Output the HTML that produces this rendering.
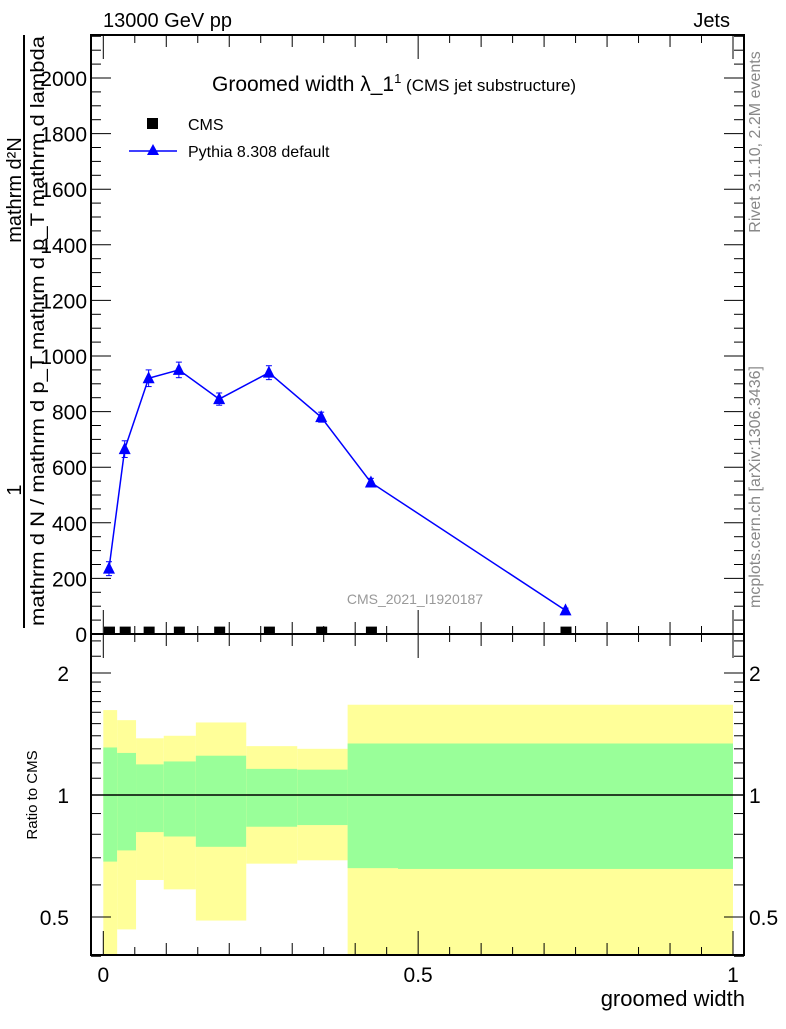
<!DOCTYPE html>
<html><head><meta charset="utf-8"><style>
body{margin:0;background:#fff}
svg text{font-family:"Liberation Sans",sans-serif}
</style></head><body>
<svg width="786" height="1024" viewBox="0 0 786 1024">
<g id="g"></g>
<text x="103" y="27" font-size="20">13000 GeV pp</text>
<text x="730" y="27" font-size="20" text-anchor="end">Jets</text>
<text x="212" y="91" font-size="21">Groomed width λ_1<tspan font-size="13" dy="-8">1</tspan><tspan font-size="17" dy="8"> (CMS jet substructure)</tspan></text>
<rect x="147" y="118" width="11" height="11" fill="#000"/>
<text x="188" y="130" font-size="16">CMS</text>
<line x1="129" y1="151" x2="177" y2="151" stroke="#00f" stroke-width="1.5"/>
<polygon points="153,144 147,155 159,155" fill="#00f"/>
<text x="188" y="157" font-size="16">Pythia 8.308 default</text>
<text x="415" y="604" font-size="14" fill="#999" text-anchor="middle">CMS_2021_I1920187</text>
<text transform="translate(760,142) rotate(-90)" font-size="16" fill="#888" text-anchor="middle">Rivet 3.1.10,  2.2M events</text>
<text transform="translate(760,487) rotate(-90)" font-size="16" fill="#888" text-anchor="middle">mcplots.cern.ch [arXiv:1306.3436]</text>
<text transform="translate(21,490) rotate(-90)" font-size="20" text-anchor="middle">1</text>
<text transform="translate(21,190) rotate(-90)" font-size="20" text-anchor="middle">mathrm d²N</text>
<line x1="24" y1="35" x2="24" y2="628" stroke="#000" stroke-width="2"/>
<text transform="translate(44,331) rotate(-90)" font-size="19" text-anchor="middle" textLength="590" lengthAdjust="spacingAndGlyphs">mathrm d N / mathrm d p_T mathrm d p_T  mathrm d lambda</text>
<text transform="translate(37,795) rotate(-90)" font-size="15" text-anchor="middle">Ratio to CMS</text>
<text x="745" y="1006" font-size="22" text-anchor="end">groomed width</text>
</svg>
<script>
const edges=[0,0.022,0.052,0.096,0.147,0.227,0.308,0.388,0.468,1.0];
const xMid=[0.009,0.034,0.072,0.12,0.184,0.263,0.346,0.425,0.734];
const pythia=[235,665,920,950,845,940,780,545,85];
const pythiaErr=[25,30,30,28,22,25,18,15,8];
const cms=[5,5,5,5,5,5,5,5,5];
const yelHi=[1.62,1.53,1.38,1.40,1.51,1.32,1.30,1.67,1.67];
const grnHi=[1.31,1.27,1.19,1.21,1.25,1.16,1.155,1.34,1.34];
const grnLo=[0.685,0.73,0.81,0.79,0.745,0.835,0.843,0.66,0.657];
const yelLo=[0.3,0.466,0.617,0.585,0.49,0.677,0.69,0.3,0.3];
const yTicks=[0,200,400,600,800,1000,1200,1400,1600,1800,2000];
const xTicks=[0,0.5,1];
const rTicks=[0.5,1,2];
const NS='http://www.w3.org/2000/svg';
const g=document.getElementById('g');
const L=91,R=744,T=35,M=634,B=955;
const X=v=>103.3+v*629.7;
const Y=v=>634-v*0.278;
const RY=r=>795-122*Math.log2(r);
function el(t,a,p){const e=document.createElementNS(NS,t);for(const k in a)e.setAttribute(k,a[k]);(p||g).appendChild(e);return e;}
const clipR=el('clipPath',{id:'cr'});el('rect',{x:L,y:M,width:R-L,height:B-M},clipR);
const bands=el('g',{'clip-path':'url(#cr)'});
for(let i=0;i<xMid.length;i++){
 const x0=X(edges[i]),x1=X(edges[i+1]);
 const y=el('rect',{x:x0,y:RY(yelHi[i]),width:x1-x0,height:RY(yelLo[i])-RY(yelHi[i]),fill:'#ffff99'},bands);
 
 
 const gr=el('rect',{x:x0,y:RY(grnHi[i]),width:x1-x0,height:RY(grnLo[i])-RY(grnHi[i]),fill:'#99ff99'},bands);
 
 
}
const one=el('line',{x1:L,x2:R,y1:RY(1),y2:RY(1),stroke:'#000','stroke-width':1.5});


const f1=el('rect',{x:L,y:T,width:R-L,height:M-T,fill:'none',stroke:'#000','stroke-width':2});


const f2=el('rect',{x:L,y:M,width:R-L,height:B-M,fill:'none',stroke:'#000','stroke-width':2});


for(let v=0;v<=2150;v+=50){const maj=v%200===0;const len=maj?20:10;
 el('line',{x1:L,x2:L+len,y1:Y(v),y2:Y(v),stroke:'#000'});el('line',{x1:R,x2:R-len,y1:Y(v),y2:Y(v),stroke:'#000'});}
yTicks.forEach(v=>{const t=el('text',{x:L-4,y:Y(v)+8,'font-size':21,'text-anchor':'end'});t.textContent=v;
 
 });
for(let k=0;k<=20;k++){const v=k*0.05;const len=k%10===0?24:(k%2===0?12:8);
 [[M,-1],[B,-1],[T,1],[M,1]].forEach(([yy,d])=>el('line',{x1:X(v),x2:X(v),y1:yy,y2:yy+d*len,stroke:'#000'}));}
xTicks.forEach(v=>{const t=el('text',{x:X(v),y:982,'font-size':21,'text-anchor':'middle'});t.textContent=v;
 
 });
[0.4,0.6,0.7,0.8,0.9,1.1,1.2,1.3,1.4,1.5,1.6,1.7,1.8,1.9,2.2,2.4].forEach(r=>{
 el('line',{x1:L,x2:L+10,y1:RY(r),y2:RY(r),stroke:'#000'});el('line',{x1:R,x2:R-10,y1:RY(r),y2:RY(r),stroke:'#000'});});
rTicks.forEach(r=>{el('line',{x1:L,x2:L+20,y1:RY(r),y2:RY(r),stroke:'#000'});el('line',{x1:R,x2:R-20,y1:RY(r),y2:RY(r),stroke:'#000'});
 const t=el('text',{x:L-22,y:RY(r)+8,'font-size':21,'text-anchor':'end'});t.textContent=r;
 
 
 const t2=el('text',{x:R+5,y:RY(r)+8,'font-size':21});t2.textContent=r;
 
 });
const pl=el('polyline',{points:xMid.map((x,i)=>X(x)+','+Y(pythia[i])).join(' '),fill:'none',stroke:'#00f','stroke-width':1.5});


xMid.forEach((x,i)=>{const cx=X(x),cy=Y(pythia[i]);
 el('line',{x1:cx,x2:cx,y1:Y(pythia[i]+pythiaErr[i]),y2:Y(pythia[i]-pythiaErr[i]),stroke:'#00f'});
 el('line',{x1:cx-3,x2:cx+3,y1:Y(pythia[i]+pythiaErr[i]),y2:Y(pythia[i]+pythiaErr[i]),stroke:'#00f'});
 el('line',{x1:cx-3,x2:cx+3,y1:Y(pythia[i]-pythiaErr[i]),y2:Y(pythia[i]-pythiaErr[i]),stroke:'#00f'});
 const p=el('polygon',{points:`${cx},${cy-7} ${cx-6},${cy+5} ${cx+6},${cy+5}`,fill:'#00f'});
 
 
 const c=el('rect',{x:X(x)-5,y:Y(cms[i])-6,width:11,height:7,fill:'#000'});
 
 
});
</script>
</body></html>
